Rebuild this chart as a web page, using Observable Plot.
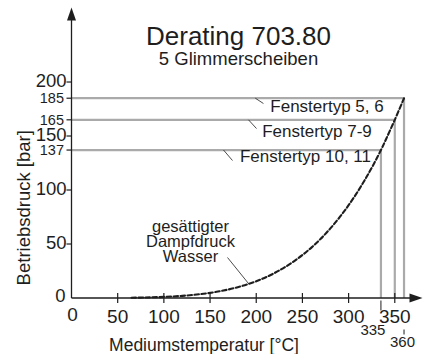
<!DOCTYPE html>
<html><head><meta charset="utf-8">
<script src="https://cdn.jsdelivr.net/npm/d3@7"></script>
<script src="https://cdn.jsdelivr.net/npm/@observablehq/plot@0.6"></script>
<style>body{margin:0;background:#fff}</style>
</head><body><div id="chart"></div>
<script>
// Saturated vapour pressure of water (dashed curve)
const curveTemps = [65, 80, 100, 120, 140, 160, 180, 200, 220, 240, 260, 280, 300, 320, 335, 340, 350, 360];
const curvePressures = [0.25, 0.47, 1.01, 1.99, 3.61, 6.18, 10.0, 15.5, 23.2, 33.5, 46.9, 64.2, 85.9, 112.9, 137, 146.1, 165, 185];

// Window types (derating limits)
const windowTypes = ["Fenstertyp 5, 6", "Fenstertyp 7-9", "Fenstertyp 10, 11"];
const windowPressures = [185, 165, 137];
const windowTemps = [360, 350, 335];
// annotation label anchors (data units)
const windowLabelT = [276.6, 265.8, 253.3];
const windowLabelP = [177.3, 153.7, 130.6];
const leaderT1 = [199, 191.6, 164.6];
const leaderP1 = [185, 165, 137];
const leaderT2 = [207.8, 200.3, 174.3];
const leaderP2 = [180.1, 156.9, 127.3];

const xTickValues = [50, 100, 150, 200, 250, 300, 350];
const yTickValues = [50, 100, 150, 200];
const yMinorTicks = [137, 165, 185];
const xMinorTicks = [335, 360];

const title = "Derating 703.80";
const subtitle = "5 Glimmerscheiben";
const xLabel = "Mediumstemperatur [°C]";
const yLabel = "Betriebsdruck [bar]";
const curveLabel = "gesättigter\nDampfdruck\nWasser";

// layout
const W = 424, H = 354;
const mL = 71, mR = 2, mT = 7, mB = 56.5;
const xMax = 380, yMax = 269;
const ppx = (W - mL - mR) / xMax;
const ppy = (H - mT - mB) / yMax;
const ux = px => px / ppx, uy = px => px / ppy;

const curve = curveTemps.map((t, i) => ({t, p: curvePressures[i]}));
const wins = windowTypes.map((name, i) => ({
  name, p: windowPressures[i], t: windowTemps[i],
  lt: windowLabelT[i], lp: windowLabelP[i],
  t1: leaderT1[i], p1: leaderP1[i], t2: leaderT2[i], p2: leaderP2[i]
}));

const gray = "#aaaaaa";
const ink = "#1e1e1e";
const font = "'Liberation Sans', Arial, sans-serif";

const plot = Plot.plot({
  width: W, height: H,
  marginLeft: mL, marginRight: mR, marginTop: mT, marginBottom: mB,
  x: {domain: [0, xMax], axis: null},
  y: {domain: [0, yMax], axis: null},
  style: {fontFamily: font, background: "#fff", color: ink},
  marks: [
    // gray derating lines
    Plot.link(wins, {x1: 0, x2: "t", y1: "p", y2: "p", stroke: gray, strokeWidth: 2.2}),
    Plot.link(wins, {x1: "t", x2: "t", y1: 0, y2: "p", stroke: gray, strokeWidth: 2.2}),
    // axes lines
    Plot.link([0], {x1: 0, x2: 0, y1: 0, y2: yMax - uy(10), stroke: ink, strokeWidth: 1.3}),
    Plot.link([0], {x1: 0, x2: xMax - ux(10), y1: 0, y2: 0, stroke: ink, strokeWidth: 1.3}),
    Plot.vector([0], {x: () => 0, y: () => yMax, rotate: 0, anchor: "end", shape: "spike", r: 4.5, length: 13, fill: ink, stroke: "none"}),
    Plot.vector([0], {x: () => xMax, y: () => 0, rotate: 90, anchor: "end", shape: "spike", r: 4.5, length: 13, fill: ink, stroke: "none"}),
    // x ticks crossing the axis
    Plot.link(xTickValues, {x1: d => d, x2: d => d, y1: -uy(5), y2: uy(5), stroke: ink, strokeWidth: 1.2}),
    Plot.text(xTickValues, {x: d => d, y: 0, text: d => String(d), lineAnchor: "middle", dy: 19, fontSize: 19, fill: ink}),
    Plot.text([0], {x: d => d, y: 0, text: d => String(d), lineAnchor: "middle", dy: 17, dx: 1, fontSize: 19, fill: ink}),
    // minor x ticks (335, 360)
    Plot.link([xMinorTicks[0]], {x1: d => d, x2: d => d, y1: -uy(2.5), y2: -uy(12.5), stroke: ink, strokeWidth: 1}),
    Plot.link([xMinorTicks[1]], {x1: d => d, x2: d => d, y1: -uy(31.5), y2: -uy(36.5), stroke: ink, strokeWidth: 1}),
    Plot.text([xMinorTicks[0]], {x: d => d, y: 0, text: d => String(d), lineAnchor: "middle", dx: -8, dy: 32, fontSize: 15, fill: ink}),
    Plot.text([xMinorTicks[1]], {x: d => d, y: 0, text: d => String(d), lineAnchor: "middle", dx: -1.5, dy: 44.5, fontSize: 15, fill: ink}),
    // y ticks
    Plot.link(yTickValues, {x1: -ux(5), x2: 0, y1: d => d, y2: d => d, stroke: ink, strokeWidth: 1.2}),
    Plot.text(yTickValues, {x: 0, y: d => d, text: d => String(d), textAnchor: "end", lineAnchor: "middle", dx: -5, dy: -0.5, fontSize: 18.5, fill: ink}),
    Plot.text([0], {x: 0, y: d => d, text: d => String(d), textAnchor: "end", lineAnchor: "middle", dx: -6, dy: -1.5, fontSize: 18.5, fill: ink}),
    Plot.link(yMinorTicks, {x1: -ux(5), x2: 0, y1: d => d, y2: d => d, stroke: ink, strokeWidth: 1.2}),
    Plot.text(yMinorTicks, {x: 0, y: d => d, text: d => String(d), textAnchor: "end", lineAnchor: "middle", dx: -7.5, dy: 0.5, fontSize: 14.5, fill: ink}),
    // vapour pressure curve
    Plot.line(curve, {x: "t", y: "p", curve: "catmull-rom", stroke: ink, strokeWidth: 2.1, strokeDasharray: "4.5,2.5"}),
    // annotations
    Plot.link(wins, {x1: "t1", y1: "p1", x2: "t2", y2: "p2", stroke: ink, strokeWidth: 0.8}),
    Plot.text(wins, {x: "lt", y: "lp", text: "name", lineAnchor: "middle", fontSize: 17, fill: ink}),
    Plot.link([0], {x1: () => 168.9, y1: () => 37.5, x2: () => 192, y2: () => 13, stroke: ink, strokeWidth: 0.8}),
    Plot.text([curveLabel], {x: () => 128.8, y: () => 51.9, text: d => d, lineAnchor: "middle", fontSize: 16.5, lineHeight: 0.9, fill: ink}),
    // titles and axis labels
    Plot.text([title], {frameAnchor: "top", text: d => d, textAnchor: "middle", lineAnchor: "middle", dx: -8.5, dy: 29, fontSize: 26, fill: ink}),
    Plot.text([subtitle], {frameAnchor: "top", text: d => d, textAnchor: "middle", lineAnchor: "middle", dx: -8.5, dy: 52, fontSize: 18.5, fill: ink}),
    Plot.text([xLabel], {frameAnchor: "bottom", text: d => d, textAnchor: "middle", lineAnchor: "middle", dx: -43, dy: 47.5, fontSize: 17.5, fill: ink}),
    Plot.text([yLabel], {frameAnchor: "left", text: d => d, textAnchor: "middle", lineAnchor: "middle", rotate: -90, dx: -47.5, dy: 55, fontSize: 18.5, fill: ink})
  ]
});
document.getElementById("chart").append(plot);
</script>
</body></html>
